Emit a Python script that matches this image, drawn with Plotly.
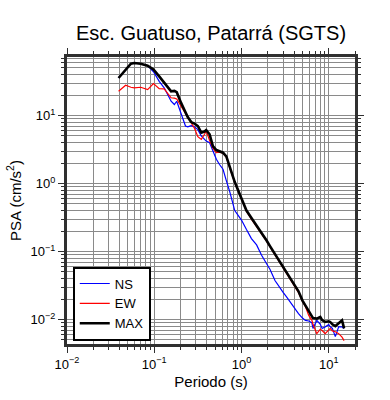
import plotly.graph_objects as go

periods = [0.039, 0.047, 0.054, 0.059, 0.070, 0.084, 0.098, 0.114, 0.130, 0.156, 0.170, 0.181,
           0.203, 0.228, 0.242, 0.265, 0.289, 0.316, 0.346, 0.377, 0.394, 0.431, 0.47, 0.515,
           0.56, 0.614, 0.67, 0.733, 0.837, 1.0, 1.14, 1.3, 1.49, 1.7, 1.94, 2.12, 2.42, 2.7,
           3.0, 3.3, 3.94, 4.5, 5.0, 5.4, 5.9, 6.4, 6.6, 7.3, 8.0, 8.4, 9.1, 10.0, 10.4, 11.0,
           11.9, 13.0, 14.2, 15.0]

psa_ns = [35.6, 46, 57.7, 59, 57.7, 54, 44, 31.8, 25.5, 16.2, 14.5, 16.2,
          10.3, 7.0, 6.8, 7.1, 6.8, 6.2, 5.0, 4.45, 4.2, 3.98, 3.1, 2.27,
          1.9, 1.62, 1.1, 0.76, 0.40, 0.29, 0.21, 0.155, 0.125, 0.088, 0.066, 0.055, 0.0375, 0.03,
          0.025, 0.0214, 0.0153, 0.0122, 0.0105, 0.0097, 0.0095, 0.009, 0.0074, 0.0097, 0.0085, 0.0074, 0.0078, 0.0084, 0.0078, 0.0074,
          0.0056, 0.0078, 0.0078, 0.0074]

psa_ew = [22.7, 27.8, 26, 25.5, 26, 24, 29.4, 24.8, 24.6, 18.2, 18, 17.5,
          13.7, 10.8, 9.25, 7.8, 6.5, 4.88, 4.45, 5.3, 5.9, 4.3, 3.3, 2.84,
          2.9, 2.8, 2.45, 1.68, 1.03, 0.59, 0.39, 0.30, 0.235, 0.186, 0.142, 0.118, 0.09, 0.071,
          0.057, 0.048, 0.033, 0.025, 0.0185, 0.0155, 0.0115, 0.0098, 0.0085, 0.0062, 0.0072, 0.0069, 0.0062, 0.0072, 0.0074, 0.0068,
          0.0066, 0.0062, 0.0055, 0.0049]

psa_max = [35.6, 46, 57.7, 59, 57.7, 54, 47.5, 37.6, 30, 22.7, 23, 22,
           15.3, 11.0, 9.5, 8.0, 7.6, 7.0, 5.6, 5.8, 6.1, 5.3, 3.55, 3.1,
           2.95, 2.84, 2.5, 1.71, 1.05, 0.6, 0.4, 0.31, 0.24, 0.19, 0.145, 0.12, 0.092, 0.073,
           0.058, 0.049, 0.034, 0.026, 0.019, 0.016, 0.0135, 0.0115, 0.0105, 0.0103, 0.0109, 0.0098, 0.0092, 0.0094, 0.0092, 0.0085,
           0.0080, 0.0088, 0.0097, 0.0074]

major_ticks = [0.01, 0.1, 1, 10]
major_labels = ["10<sup>\u22122</sup>", "10<sup>\u22121</sup>", "10<sup>0</sup>", "10<sup>1</sup>"]
decades = [0.001, 0.01, 0.1, 1, 10]
minor_ticks = [d * m for d in decades for m in range(2, 10)]

FONT = "Liberation Sans, Arial, Helvetica, sans-serif"

fig = go.Figure()
fig.add_trace(go.Scatter(x=periods, y=psa_ns, mode="lines", name="NS",
                         line=dict(color="#0000ff", width=1.2)))
fig.add_trace(go.Scatter(x=periods, y=psa_ew, mode="lines", name="EW",
                         line=dict(color="#ff0000", width=1.2)))
fig.add_trace(go.Scatter(x=periods, y=psa_max, mode="lines", name="MAX",
                         line=dict(color="#000000", width=2.6)))

axis_common = dict(
    type="log",
    showline=True, linewidth=3, linecolor="#303030", mirror="ticks",
    ticks="outside", ticklen=6, tickwidth=1, tickcolor="#303030",
    showgrid=True, gridcolor="#8a8a8a", gridwidth=0.8,
    zeroline=False,
    tickmode="array", tickvals=major_ticks, ticktext=major_labels,
    tickfont=dict(family=FONT, size=13, color="#000"),
    minor=dict(tickmode="array", tickvals=minor_ticks, ticks="outside", ticklen=3,
               tickcolor="#303030", showgrid=True, gridcolor="#8a8a8a", gridwidth=0.8),
)

fig.update_xaxes(**axis_common, range=[-2, 1.301],
                 title=dict(text="Periodo (s)", font=dict(family=FONT, size=15, color="#000"), standoff=6))
fig.update_yaxes(**axis_common, range=[-2.36, 1.86],
                 title=dict(text="PSA (cm/s<sup>2</sup>)", font=dict(family=FONT, size=15, color="#000"), standoff=6))

fig.update_layout(
    width=390, height=400,
    margin=dict(l=67, r=35, t=57, b=54),
    paper_bgcolor="white", plot_bgcolor="white",
    title=dict(text="Esc. Guatuso, Patarrá (SGTS)", x=0.5, xref="paper", xanchor="center",
               y=1 - 33 / 400, yref="container", yanchor="middle",
               font=dict(family=FONT, size=20, color="#000")),
    legend=dict(x=0.02, y=0.012, xanchor="left", yanchor="bottom",
                bgcolor="white", bordercolor="#000", borderwidth=2,
                font=dict(family=FONT, size=13, color="#000"),
                itemwidth=30),
    showlegend=True,
)

fig.write_html("out.html", config={"displayModeBar": False},
               post_script="document.body.style.margin='0';document.body.style.padding='0';")
